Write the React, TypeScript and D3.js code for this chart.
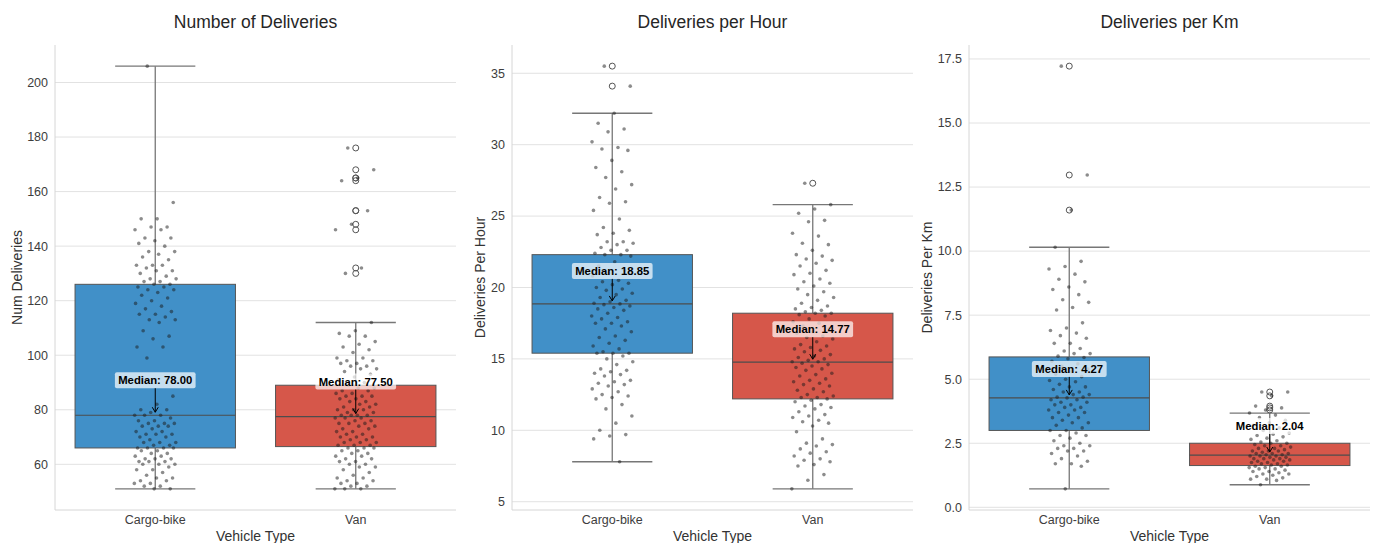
import React from 'react'
import * as d3 from 'd3'

const categories = ['Cargo-bike', 'Van']
const boxColors = ['#4190c8', '#d6574a']
const titles = ['Number of Deliveries', 'Deliveries per Hour', 'Deliveries per Km']
const yLabels = ['Num Deliveries', 'Deliveries Per Hour', 'Deliveries Per Km']
const xLabel = 'Vehicle Type'

const yTicks = [
    [60, 80, 100, 120, 140, 160, 180, 200],
    [5, 10, 15, 20, 25, 30, 35],
    [0, 2.5, 5, 7.5, 10, 12.5, 15, 17.5],
]
const tickDecimals = [0, 0, 1]

// [lowWhisker, q1, median, q3, highWhisker] per vehicle type
const numStats = [
    [51, 66, 78, 126, 206],
    [51, 66.5, 77.5, 89, 112],
]
const perHourStats = [
    [7.8, 15.4, 18.85, 22.3, 32.2],
    [5.9, 12.2, 14.77, 18.2, 25.8],
]
const perKmStats = [
    [0.72, 3.0, 4.27, 5.87, 10.15],
    [0.88, 1.63, 2.04, 2.5, 3.68],
]

const numOutliers = [[], [130, 132, 146, 148, 153, 153, 164, 165, 165, 168, 176]]
const perHourOutliers = [[34.1, 35.5], [27.3]]
const perKmOutliers = [[11.6, 12.97, 17.22], [3.8, 3.88, 3.95, 4.35, 4.5]]

const numCargo = [
    206, 156, 150, 150, 147, 147, 146, 146, 143, 143, 142, 141, 140, 138, 138, 137, 136, 135, 133, 133,
    133, 132, 131, 131, 130, 129, 128, 128, 127, 127, 126, 126, 125, 125, 124, 124, 123, 122, 121, 120,
    119, 118, 117, 116, 115, 115, 114, 113, 113, 112, 109, 107, 106, 103, 103, 99, 85, 82, 80, 80,
    79, 78, 78, 78, 77, 76, 76, 75, 75, 75, 74, 74, 74, 73, 72, 72, 71, 71, 71, 70,
    70, 69, 68, 68, 68, 67, 67, 66, 66, 66, 66, 65, 65, 64, 64, 63, 63, 62, 62, 62,
    61, 61, 61, 60, 60, 60, 59, 58, 58, 57, 56, 55, 55, 54, 54, 53, 53, 52, 52, 51, 51,
]
const numVan = [
    176, 168, 165, 164, 153, 148, 146, 132, 130, 112, 109, 108, 107, 107, 105, 104, 103, 102, 101, 99,
    99, 98, 98, 97, 97, 96, 96, 95, 95, 94, 93, 92, 91, 90, 89, 88, 88, 87, 87, 86,
    86, 85, 85, 85, 84, 84, 83, 83, 82, 82, 81, 81, 80, 80, 80, 79, 79, 78, 78, 78,
    78, 77, 77, 77, 76, 76, 75, 75, 75, 74, 74, 73, 73, 72, 72, 71, 71, 70, 70, 70,
    69, 69, 68, 68, 68, 67, 67, 67, 66, 66, 66, 65, 65, 64, 64, 63, 63, 62, 62, 61,
    61, 60, 60, 59, 59, 58, 57, 56, 55, 55, 54, 54, 53, 53, 52, 52, 51, 51, 51,
]
const perHourCargo = [
    35.5, 34.1, 32.2, 31.5, 31.1, 30.9, 30.2, 29.8, 29.7, 29.6, 28.9, 28.4, 28.1, 27.7, 27.2, 26.9, 26.3, 26.0, 25.9, 25.4,
    24.8, 24.2, 24.0, 23.8, 23.7, 23.2, 23.2, 23.1, 23.0, 22.8, 22.6, 22.6, 22.4, 22.3, 22.3, 22.2, 21.8, 21.5, 21.2, 21.0,
    20.8, 20.5, 20.4, 20.3, 20.2, 20.0, 19.9, 19.8, 19.6, 19.5, 19.3, 19.1, 19.0, 18.9, 18.85, 18.8, 18.7, 18.6, 18.5, 18.4,
    18.2, 18.0, 17.9, 17.8, 17.6, 17.5, 17.5, 17.3, 17.1, 16.9, 16.6, 16.5, 16.3, 16.1, 15.9, 15.7, 15.5, 15.4, 15.4, 15.4,
    15.2, 15.0, 14.8, 14.6, 14.3, 14.2, 14.1, 14.0, 13.9, 13.8, 13.5, 13.4, 13.3, 13.2, 13.1, 12.9, 12.7, 12.5, 12.4, 12.3,
    12.2, 11.8, 11.5, 11.0, 10.5, 10.0, 9.7, 9.6, 9.4, 7.8,
]
const perHourVan = [
    27.3, 25.8, 25.5, 25.2, 24.7, 24.6, 23.8, 23.6, 23.1, 23.0, 22.6, 22.3, 22.2, 22.0, 21.9, 21.7, 21.5, 21.2, 21.0, 20.9,
    20.6, 20.4, 20.3, 20.1, 19.9, 19.7, 19.5, 19.3, 19.1, 18.9, 18.7, 18.6, 18.5, 18.4, 18.3, 18.2, 18.2, 18.1, 18.0, 17.8,
    17.6, 17.5, 17.3, 17.1, 16.9, 16.8, 16.6, 16.5, 16.4, 16.2, 16.0, 15.9, 15.8, 15.7, 15.6, 15.5, 15.3, 15.2, 15.1, 15.0,
    14.9, 14.8, 14.8, 14.7, 14.6, 14.5, 14.4, 14.3, 14.2, 14.0, 13.9, 13.8, 13.6, 13.5, 13.4, 13.3, 13.2, 13.1, 12.9, 12.8,
    12.7, 12.5, 12.4, 12.3, 12.3, 12.2, 12.1, 12.0, 11.8, 11.7, 11.6, 11.5, 11.3, 11.1, 11.0, 10.9, 10.7, 10.6, 10.5, 10.3,
    9.9, 9.4, 9.1, 9.0, 8.9, 8.7, 8.5, 8.4, 8.2, 8.0, 7.9, 7.8, 7.6, 7.5, 6.9, 6.5, 5.9,
]
const perKmCargo = [
    17.22, 12.97, 11.6, 10.15, 9.6, 9.4, 9.3, 9.1, 8.9, 8.8, 8.6, 8.5, 8.3, 8.1, 8.0, 7.8, 7.7, 7.2, 7.0, 6.9,
    6.8, 6.7, 6.6, 6.4, 6.4, 6.2, 6.1, 6.0, 6.0, 5.9, 5.85, 5.8, 5.7, 5.6, 5.5, 5.4, 5.3, 5.2, 5.1, 5.0,
    4.95, 4.9, 4.8, 4.7, 4.7, 4.6, 4.5, 4.5, 4.4, 4.4, 4.3, 4.3, 4.27, 4.2, 4.2, 4.1, 4.1, 4.0, 4.0, 3.9,
    3.9, 3.8, 3.8, 3.7, 3.7, 3.6, 3.5, 3.5, 3.4, 3.3, 3.3, 3.2, 3.1, 3.0, 3.0, 2.9, 2.8, 2.8, 2.7, 2.6,
    2.5, 2.4, 2.4, 2.3, 2.3, 2.2, 2.2, 2.1, 2.0, 1.9, 1.8, 1.7, 1.7, 1.6, 0.72,
]
const perKmVan = [
    4.5, 4.5, 4.35, 3.95, 3.88, 3.8, 3.68, 3.6, 3.5, 3.4, 3.3, 3.2, 3.1, 3.0, 2.9, 2.85, 2.8, 2.75, 2.7, 2.65,
    2.6, 2.55, 2.5, 2.5, 2.45, 2.4, 2.4, 2.35, 2.3, 2.3, 2.25, 2.2, 2.2, 2.2, 2.15, 2.1, 2.1, 2.1, 2.05, 2.05,
    2.0, 2.0, 2.0, 1.95, 1.95, 1.9, 1.9, 1.9, 1.85, 1.85, 1.8, 1.8, 1.75, 1.75, 1.7, 1.7, 1.65, 1.65, 1.6, 1.6,
    1.55, 1.55, 1.5, 1.5, 1.45, 1.4, 1.4, 1.35, 1.3, 1.3, 1.25, 1.2, 1.15, 1.1, 1.1, 1.05, 0.88,
]

const panelStats = [numStats, perHourStats, perKmStats]
const panelOutliers = [numOutliers, perHourOutliers, perKmOutliers]
const panelPoints = [
    [numCargo, numVan],
    [perHourCargo, perHourVan],
    [perKmCargo, perKmVan],
]

const W = 1377
const H = 543
const plotLeft = [55, 512, 969]
const plotWidth = 401
const plotTop = 45
const plotBottom = 510
const yLabelX = [17, 480, 927]
const labelOffset = [35, 33, 29]
const font = '"Liberation Sans", Arial, sans-serif'

// spread strip points sideways, a fixed (non-random) pattern
const jitter = (i: number) => (((i * 0.6180339887 + 0.31) % 1) - 0.5) * 42

const Panel: React.FC<{ p: number }> = ({ p }) => {
    const left = plotLeft[p]
    const stats = panelStats[p]
    const allVals = [...stats.flat(), ...panelOutliers[p].flat()]
    const lo = d3.min(allVals) as number
    const hi = d3.max(allVals) as number
    const pad = (hi - lo) * 0.05

    const x = d3.scaleBand<string>().domain(categories).range([left, left + plotWidth])
    const y = d3.scaleLinear().domain([lo - pad, hi + pad]).range([plotBottom, plotTop])
    const bw = x.bandwidth() * 0.8
    const fmt = d3.format(`.${tickDecimals[p]}f`)

    return (
        <g>
            <text x={left + plotWidth / 2} y={22} dy="0.35em" textAnchor="middle" fontSize={17.5} fill="#262626" fontFamily={font}>
                {titles[p]}
            </text>
            {yTicks[p].map((t) => (
                <g key={t}>
                    <line x1={left} x2={left + plotWidth} y1={y(t)} y2={y(t)} stroke="#e2e2e2" strokeWidth={1} />
                    <text x={left - 7} y={y(t)} dy="0.35em" textAnchor="end" fontSize={12.5} fill="#3d3d3d" fontFamily={font}>
                        {fmt(t)}
                    </text>
                </g>
            ))}
            <line x1={left} x2={left} y1={plotTop} y2={plotBottom} stroke="#d6d6d6" />
            <line x1={left} x2={left + plotWidth} y1={plotBottom} y2={plotBottom} stroke="#d6d6d6" />

            {categories.map((c, ci) => {
                const [wl, q1, med, q3, wh] = stats[ci]
                const cx = (x(c) as number) + x.bandwidth() / 2
                return (
                    <g key={c}>
                        <line x1={cx} x2={cx} y1={y(wh)} y2={y(q3)} stroke="#777" strokeWidth={1.3} />
                        <line x1={cx} x2={cx} y1={y(q1)} y2={y(wl)} stroke="#777" strokeWidth={1.3} />
                        <line x1={cx - bw / 4} x2={cx + bw / 4} y1={y(wh)} y2={y(wh)} stroke="#777" strokeWidth={1.3} />
                        <line x1={cx - bw / 4} x2={cx + bw / 4} y1={y(wl)} y2={y(wl)} stroke="#777" strokeWidth={1.3} />
                        <rect x={cx - bw / 2} y={y(q3)} width={bw} height={y(q1) - y(q3)} fill={boxColors[ci]} stroke="#555" strokeWidth={1} />
                        <line x1={cx - bw / 2} x2={cx + bw / 2} y1={y(med)} y2={y(med)} stroke="#4d4d4d" strokeWidth={1.2} />
                        {panelOutliers[p][ci].map((v, i) => (
                            <circle key={i} cx={cx} cy={y(v)} r={3} fill="none" stroke="#555" strokeWidth={1} />
                        ))}
                    </g>
                )
            })}

            {categories.map((c, ci) => {
                const cx = (x(c) as number) + x.bandwidth() / 2
                return (
                    <g key={c + '-pts'}>
                        {panelPoints[p][ci].map((v, i) => (
                            <circle key={i} cx={cx + jitter(i)} cy={y(v)} r={1.8} fill="#1a1a1a" fillOpacity={0.5} />
                        ))}
                    </g>
                )
            })}

            {categories.map((c, ci) => {
                const med = stats[ci][2]
                const cx = (x(c) as number) + x.bandwidth() / 2
                const my = y(med)
                const ly = my - labelOffset[p]
                const label = `Median: ${med.toFixed(2)}`
                const tw = label.length * 5.9 + 4
                return (
                    <g key={c + '-lab'}>
                        <rect x={cx - tw / 2} y={ly - 8} width={tw} height={16} rx={2} fill="#fff" fillOpacity={0.7} />
                        <text x={cx} y={ly} dy="0.35em" textAnchor="middle" fontSize={11.3} fontWeight="bold" fill="#000" fontFamily={font}>
                            {label}
                        </text>
                        <line x1={cx} x2={cx} y1={ly + 8} y2={my - 3} stroke="#000" strokeWidth={1} />
                        <path d={`M${cx - 3},${my - 8} L${cx},${my - 3} L${cx + 3},${my - 8}`} fill="none" stroke="#000" strokeWidth={1} />
                    </g>
                )
            })}

            {categories.map((c) => (
                <text key={c + '-tick'} x={(x(c) as number) + x.bandwidth() / 2} y={520} dy="0.35em" textAnchor="middle" fontSize={12.5} fill="#3d3d3d" fontFamily={font}>
                    {c}
                </text>
            ))}
            <text x={left + plotWidth / 2} y={536} dy="0.35em" textAnchor="middle" fontSize={14} fill="#333" fontFamily={font}>
                {xLabel}
            </text>
            <text
                transform={`translate(${yLabelX[p]},${(plotTop + plotBottom) / 2}) rotate(-90)`}
                textAnchor="middle"
                dy="0.35em"
                fontSize={14}
                fill="#333"
                fontFamily={font}
            >
                {yLabels[p]}
            </text>
        </g>
    )
}

const App: React.FC = () => {
    return (
        <div style={{ position: 'absolute', left: 0, top: 0 }}>
            <svg width={W} height={H} style={{ display: 'block', background: '#fff' }}>
                {[0, 1, 2].map((p) => (
                    <Panel key={p} p={p} />
                ))}
            </svg>
        </div>
    )
}

export default App
